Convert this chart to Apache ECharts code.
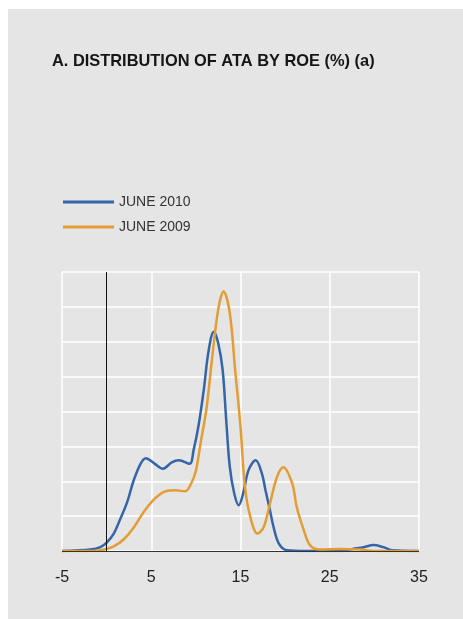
<!DOCTYPE html>
<html>
<head>
<meta charset="utf-8">
<script src="https://cdn.jsdelivr.net/npm/echarts@6/dist/echarts.min.js"></script>
<style>
  html, body { margin: 0; padding: 0; background: #fff; }
  #chart { width: 463px; height: 619px; }
</style>
</head>
<body>
<div id="chart"></div>
<script>
// ROE (%) on x, density (arbitrary units) on y
const roe2010 = [-5, -1.8, -0.7, 0, 0.8, 1.5, 2.3, 3.0, 3.8, 4.4, 5.3, 6.3, 7.3, 8.1, 9.3, 9.75, 10.3, 10.9, 11.4, 12.0, 12.5, 13.0, 13.4, 13.8, 14.3, 14.8, 15.3, 15.9, 16.7, 17.4, 17.8, 18.3, 18.7, 19.3, 20.2, 22.4, 26.2, 27.6, 28.8, 29.9, 31.0, 32.1, 35];
const dens2010 = [0, 0.04, 0.11, 0.24, 0.5, 0.9, 1.4, 2.0, 2.5, 2.66, 2.52, 2.36, 2.54, 2.6, 2.5, 2.9, 3.6, 4.65, 5.7, 6.29, 5.96, 5.19, 3.75, 2.41, 1.65, 1.31, 1.65, 2.32, 2.6, 2.22, 1.74, 1.17, 0.69, 0.21, 0.02, 0, 0, 0.06, 0.11, 0.17, 0.11, 0.02, 0];

const roe2009 = [-5, -1.8, -0.3, 0.8, 1.9, 3.0, 4.1, 5.4, 6.7, 7.7, 8.8, 9.5, 10.0, 10.6, 11.2, 11.8, 12.5, 13.1, 13.8, 14.4, 15.0, 15.5, 16.1, 16.9, 17.6, 18.3, 19.1, 19.8, 20.8, 21.3, 22.1, 22.8, 23.9, 26.2, 28.4, 29.9, 35];
const dens2009 = [0, 0, 0.04, 0.13, 0.33, 0.66, 1.1, 1.5, 1.72, 1.74, 1.71, 1.95, 2.3, 3.2, 4.1, 5.48, 6.92, 7.44, 6.82, 5.19, 3.56, 1.84, 0.98, 0.5, 0.69, 1.36, 2.13, 2.4, 1.93, 1.26, 0.59, 0.16, 0.04, 0.06, 0.04, 0, 0];

const seriesNames = ['JUNE 2010', 'JUNE 2009'];
const xTicks = [-5, 5, 15, 25, 35];

const pairs = (xs, ys) => xs.map((x, i) => [x, ys[i]]);

const chart = echarts.init(document.getElementById('chart'));

const option = {
  backgroundColor: '#ffffff',
  animation: false,
  graphic: [
    { type: 'rect', left: 8, top: 9, shape: { width: 455, height: 610 }, style: { fill: '#e5e5e5' }, z: -10 }
  ],
  title: {
    text: 'A. DISTRIBUTION OF ATA BY ROE (%) (a)',
    left: 52,
    top: 53,
    padding: 0,
    textStyle: { fontFamily: 'Liberation Sans, Arial, sans-serif', fontSize: 16.4, fontWeight: 'bold', color: '#151515' }
  },
  legend: {
    data: seriesNames.map(n => ({ name: n, icon: 'rect' })),
    orient: 'vertical',
    left: 63,
    top: 194,
    padding: 0,
    itemWidth: 51,
    itemHeight: 3,
    itemGap: 9,
    textStyle: { fontFamily: 'Liberation Sans, Arial, sans-serif', fontSize: 14, color: '#333', lineHeight: 16 }
  },
  grid: { left: 62, right: 44, top: 272, bottom: 68 },
  xAxis: {
    type: 'value',
    min: -5,
    max: 35,
    interval: 10,
    axisLine: { show: false },
    axisTick: { show: false },
    axisLabel: {
      margin: 19,
      fontFamily: 'Liberation Sans, Arial, sans-serif',
      fontSize: 16,
      color: '#222',
      formatter: v => (xTicks.includes(v) ? String(v) : '')
    },
    splitLine: { show: true, lineStyle: { color: '#ffffff', width: 1.5 } }
  },
  yAxis: {
    type: 'value',
    min: 0,
    max: 8,
    interval: 1,
    axisLine: { show: false },
    axisTick: { show: false },
    axisLabel: { show: false },
    splitLine: { show: true, lineStyle: { color: '#ffffff', width: 1.5 } }
  },
  series: [
    {
      name: seriesNames[0],
      type: 'line',
      data: pairs(roe2010, dens2010),
      smooth: 0.35,
      symbol: 'none',
      lineStyle: { color: '#3465a8', width: 2.5 },
      itemStyle: { color: '#3465a8' }
    },
    {
      name: seriesNames[1],
      type: 'line',
      data: pairs(roe2009, dens2009),
      smooth: 0.35,
      symbol: 'none',
      lineStyle: { color: '#e49c34', width: 2.5 },
      itemStyle: { color: '#e49c34' },
      markLine: {
        silent: true,
        symbol: 'none',
        label: { show: false },
        animation: false,
        data: [
          { xAxis: 0, lineStyle: { color: '#111', width: 1, type: 'solid' } },
          { yAxis: 0, lineStyle: { color: '#333', width: 1.2, type: 'solid' } }
        ]
      }
    }
  ]
};

chart.setOption(option);
</script>
</body>
</html>
